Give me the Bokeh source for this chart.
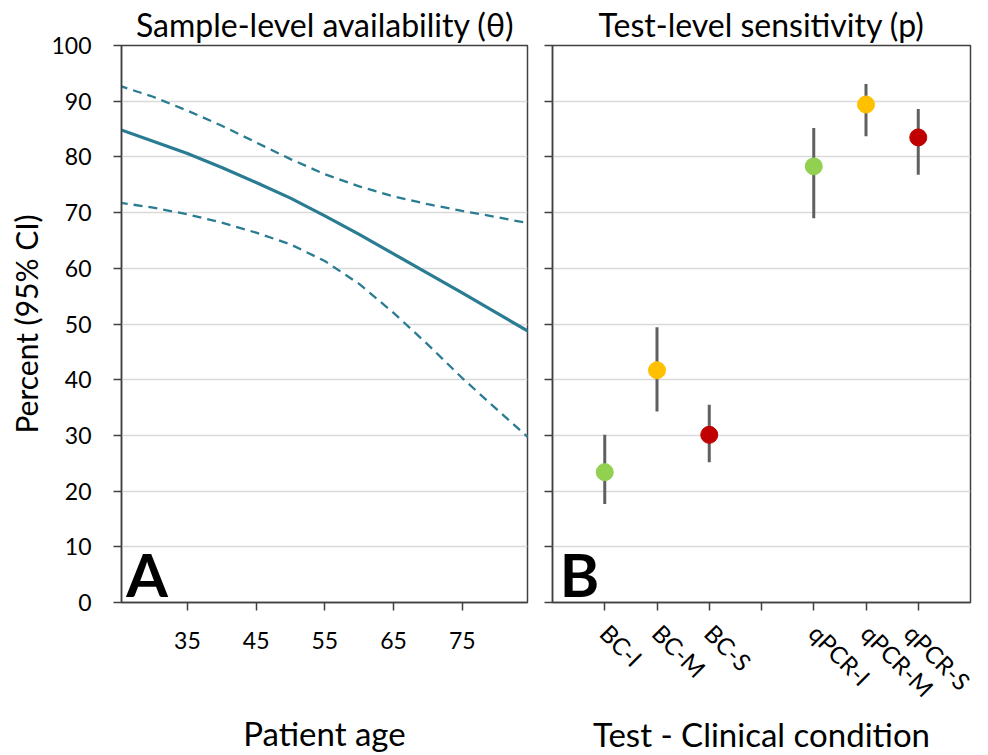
from bokeh.plotting import figure
from bokeh.layouts import row
from bokeh.models import Range1d, FactorRange, FixedTicker, Label, ColumnDataSource
from bokeh.embed import file_html
from bokeh.resources import INLINE

# ---------------- data ----------------
ages = [25, 30, 35, 40, 45, 50, 55, 60, 65, 70, 75, 80, 85]
theta_mean = [85.0, 82.8, 80.6, 78.1, 75.4, 72.6, 69.4, 66.1, 62.6, 59.1, 55.6, 52.0, 48.4]
theta_upper = [92.8, 90.8, 88.3, 85.6, 82.6, 79.6, 76.9, 74.7, 72.9, 71.5, 70.3, 69.2, 68.0]
theta_lower = [71.8, 70.9, 69.7, 68.2, 66.4, 64.3, 61.3, 57.2, 52.0, 46.3, 40.3, 34.7, 29.2]
age_ticks = [35, 45, 55, 65, 75]

tests = ["BC-I", "BC-M", "BC-S", "qPCR-I", "qPCR-M", "qPCR-S"]
sens = [23.4, 41.7, 30.1, 78.3, 89.4, 83.5]
sens_low = [17.7, 34.3, 25.2, 69.0, 83.7, 76.8]
sens_high = [30.1, 49.4, 35.5, 85.2, 93.1, 88.6]
cond_colors = ["#92D050", "#FFC000", "#C00000", "#92D050", "#FFC000", "#C00000"]
factors = ["BC-I", "BC-M", "BC-S", " ", "qPCR-I", "qPCR-M", "qPCR-S"]
y_ticks = [0, 10, 20, 30, 40, 50, 60, 70, 80, 90, 100]

FONT = "Lato"
LINE = "#2A7C93"
AXIS = "#404040"

def style(p):
    p.outline_line_color = AXIS
    p.outline_line_width = 1.5
    p.xgrid.grid_line_color = None
    p.ygrid.grid_line_color = "#D9D9D9"
    p.ygrid.grid_line_width = 1.5
    p.yaxis.ticker = FixedTicker(ticks=y_ticks)
    for ax in [p.xaxis[0], p.yaxis[0]]:
        ax.axis_line_color = AXIS
        ax.axis_line_width = 1.5
        ax.major_tick_line_color = AXIS
        ax.major_tick_line_width = 1.5
        ax.major_tick_in = 0
        ax.major_tick_out = 8
        ax.minor_tick_line_color = None
        ax.major_label_text_font = FONT
        ax.major_label_text_font_size = "23px"
        ax.major_label_text_color = "#000000"
        ax.axis_label_text_font = FONT
        ax.axis_label_text_font_size = "33px"
        ax.axis_label_text_font_style = "normal"
        ax.axis_label_text_color = "#000000"
    p.title.text_font = FONT
    p.title.text_font_size = "32px"
    p.title.text_font_style = "normal"
    p.title.align = "center"
    p.title.text_color = "#000000"
    p.title.standoff = 4

# ---------------- panel A ----------------
pA = figure(frame_width=406, frame_height=557, output_backend="svg", toolbar_location=None,
            x_range=Range1d(25.4, 84.5), y_range=Range1d(0, 100),
            min_border_left=121, min_border_right=14, min_border_top=42, min_border_bottom=135,
            title="Sample-level availability (θ)")
style(pA)
pA.xaxis.ticker = FixedTicker(ticks=age_ticks)
pA.xaxis.axis_label = "Patient age"
pA.xaxis.major_label_standoff = 21
pA.xaxis.axis_label_standoff = 61
pA.yaxis.axis_label = "Percent (95% CI)"
pA.yaxis.axis_label_text_font_size = "30px"
pA.yaxis.major_label_standoff = 22
pA.yaxis.axis_label_standoff = 4

pA.line(ages, theta_upper, line_color=LINE, line_width=2.3, line_dash="9 6")
pA.line(ages, theta_lower, line_color=LINE, line_width=2.3, line_dash="9 6")
pA.line(ages, theta_mean, line_color=LINE, line_width=3.2)
pA.add_layout(Label(x=26.1, y=-1.3, text="A", text_font=FONT, text_font_style="bold",
                    text_font_size="60px", text_baseline="bottom", text_color="#000000"))

# ---------------- panel B ----------------
pB = figure(frame_width=418, frame_height=557, output_backend="svg", toolbar_location=None,
            x_range=FactorRange(factors=factors, range_padding=0.5, range_padding_units="absolute"),
            y_range=Range1d(0, 100),
            min_border_left=11, min_border_right=6, min_border_top=42, min_border_bottom=135,
            title="Test-level sensitivity (p)")
style(pB)
pB.yaxis.major_label_overrides = {t: "" for t in y_ticks}
pB.yaxis.major_label_standoff = 0
pB.xaxis.axis_label = "Test - Clinical condition"
pB.xaxis.major_label_text_font_size = "24px"
pB.xaxis.major_label_orientation = -0.785398
pB.xaxis.major_label_standoff = 18
pB.xaxis.axis_label_standoff = -2

src = ColumnDataSource(dict(test=tests, sens=sens, lo=sens_low, hi=sens_high, color=cond_colors))
pB.segment(x0="test", y0="lo", x1="test", y1="hi", source=src, line_color="#606060", line_width=3)
pB.scatter(x="test", y="sens", source=src, size=17, fill_color="color", line_color="color")
pB.add_layout(Label(x=-0.36, y=-1.3, text="B", text_font=FONT, text_font_style="bold",
                    text_font_size="60px", text_baseline="bottom", text_color="#000000"))

layout = row(pA, pB)
open("out.html", "w").write(file_html(layout, INLINE))
